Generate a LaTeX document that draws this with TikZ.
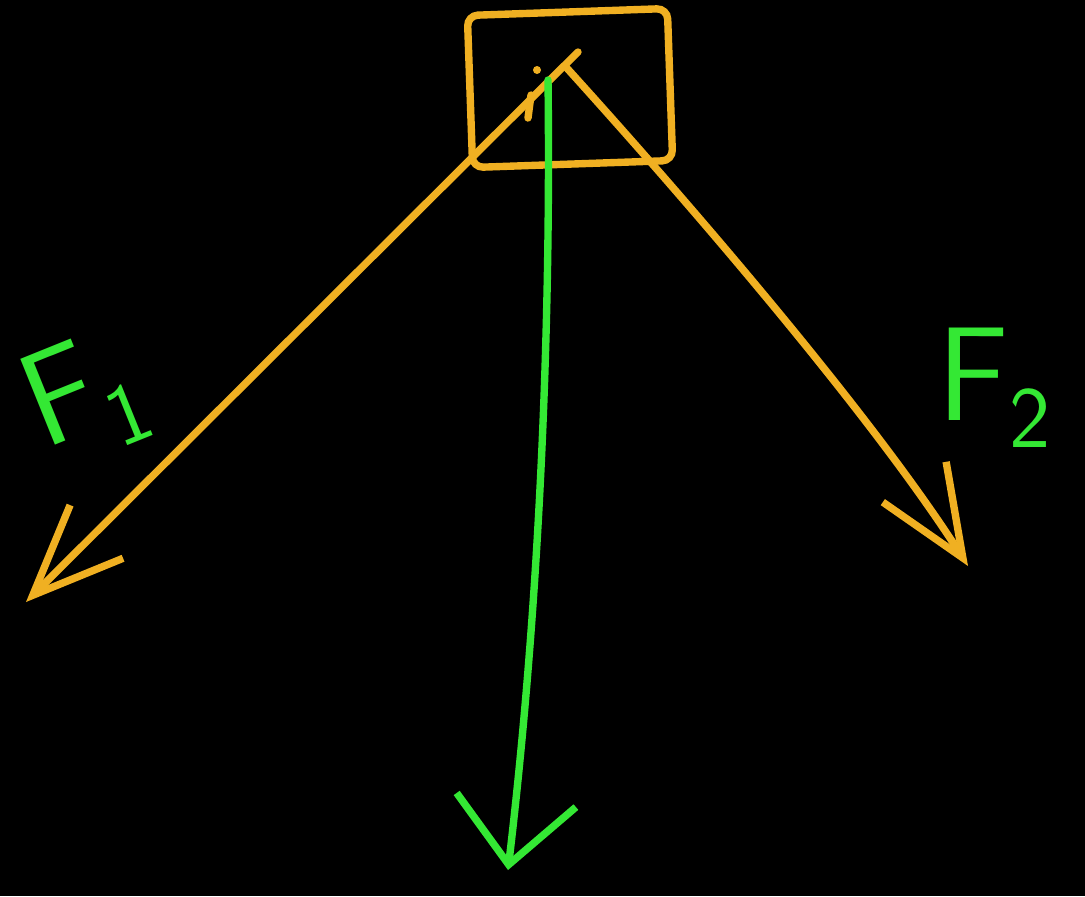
\documentclass[tikz,border=0pt]{standalone}
\usepackage{tikz}
\usetikzlibrary{arrows.meta,positioning,calc}
\definecolor{penorange}{RGB}{240,176,34}
\definecolor{pengreen}{RGB}{52,232,52}
\tikzset{
    forcebox/.style={draw=penorange, line width=2.1pt, rounded corners=3pt, minimum width=2.0cm, minimum height=1.52cm, inner sep=0pt},
    forcearrow/.style={draw=penorange, line width=2.1pt, line cap=round, -{Straight Barb[length=9mm, width=7.5mm]}},
    weightarrow/.style={draw=pengreen, line width=2.1pt, line cap=round, -{Straight Barb[length=6.5mm, width=12mm]}},
    forcelabel/.style={text=pengreen, font=\sffamily\fontsize{38}{38}\selectfont, inner sep=0pt}
}
\begin{document}
\begin{tikzpicture}[x=0.01cm, y=-0.01cm]
        \fill[black] (0,0) rectangle (1085,896);
        \useasboundingbox (0,0) rectangle (1085,896);

        \node[forcebox, rotate=2] (block) at (570,88) {};
        \coordinate (pin) at (565,66);
        \coordinate (tail) at (578,52);
        \coordinate (fonetip) at (26,602);
        \coordinate (ftwotip) at (968,566);
        \coordinate (wtop) at (548,80);
        \coordinate (wtip) at (508,870);

        \draw[forcearrow] (tail) -- (fonetip);
        \draw[forcearrow] (pin) .. controls (700,215) and (875,420) .. (ftwotip);
        \draw[weightarrow] (wtop) .. controls (551,320) and (540,600) .. (wtip);

        % small marks on the pin
        \fill[penorange] (537,70) circle (4);
        \draw[penorange, line width=2.1pt, line cap=round] (531,95) -- (528,118);

        \node[forcelabel, rotate=22] (fone) at (85,398) {F$_{\mathsf{1}}$};
        \node[forcelabel] (ftwo) at (995,388) {F$_{\mathsf{2}}$};
    \end{tikzpicture}
\end{document}
